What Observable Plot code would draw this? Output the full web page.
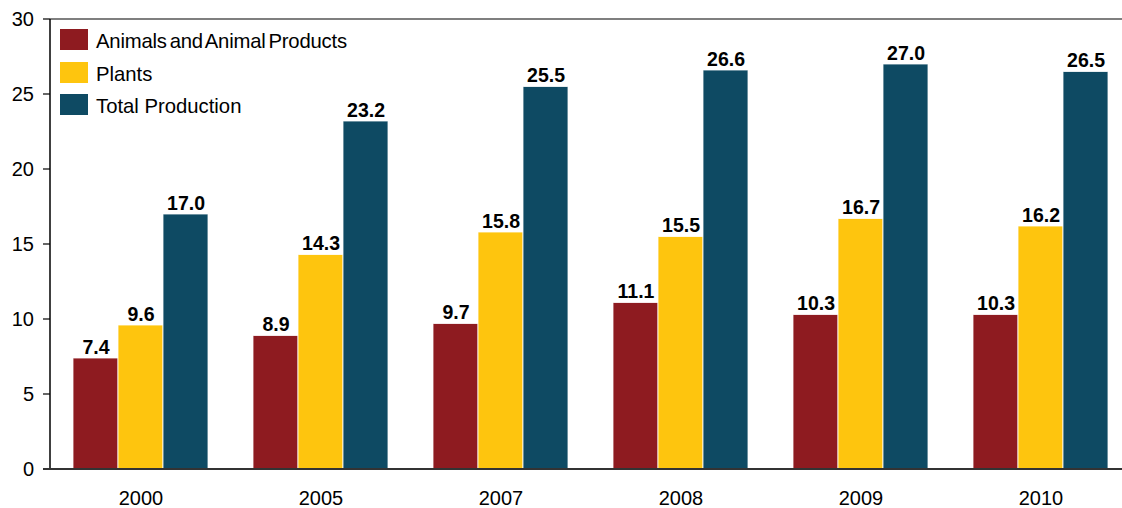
<!DOCTYPE html>
<html>
<head>
<meta charset="utf-8">
<script src="https://cdn.jsdelivr.net/npm/d3@7"></script>
<script src="https://cdn.jsdelivr.net/npm/@observablehq/plot@0.6"></script>
<style>
  body { margin: 0; background: #fff; font-family: "Liberation Sans", Arial, sans-serif; }
  #wrap { position: relative; width: 1122px; height: 508px; }
  #legend { position: absolute; left: 60px; top: 29px; font-size: 20.3px; color: #000; }
  .row { display: flex; align-items: center; height: 21px; margin-bottom: 11.7px; }
  .sw { width: 28px; height: 21px; margin-right: 8px; box-sizing: border-box; }
  .lt { white-space: nowrap; position: relative; top: 2px; }
  .row:first-child .lt { word-spacing: -2.5px; letter-spacing: -0.2px; }
</style>
</head>
<body>
<div id="wrap"><div id="legend"></div></div>
<script>
const years = ["2000", "2005", "2007", "2008", "2009", "2010"];
const series = ["Animals and Animal Products", "Plants", "Total Production"];
const colors = ["#8E1B20", "#FEC50E", "#0E4A63"];
const animals = [7.4, 8.9, 9.7, 11.1, 10.3, 10.3];
const plants = [9.6, 14.3, 15.8, 15.5, 16.7, 16.2];
const total = [17.0, 23.2, 25.5, 26.6, 27.0, 26.5];
const yTicks = [0, 5, 10, 15, 20, 25, 30];

const valuesBySeries = [animals, plants, total];
const data = [];
years.forEach((yr, i) => series.forEach((s, j) => data.push({year: yr, series: s, value: valuesBySeries[j][i]})));

const plot = Plot.plot({
  width: 1122,
  height: 508,
  marginLeft: 50,
  marginRight: 0,
  marginTop: 19,
  marginBottom: 39,
  style: {fontFamily: "'Liberation Sans', Arial, sans-serif", fontSize: "20px", color: "#000", background: "#fff"},
  fx: {domain: years, range: [50.5, 1130.5], paddingInner: 0.25, paddingOuter: 0.125, label: null, axis: null},
  x: {domain: series, padding: 0, axis: null},
  y: {domain: [0, 30], label: null, axis: null},
  color: {domain: series, range: colors},
  marks: [
    Plot.axisY({ticks: yTicks, tickSize: 0, tickPadding: 17, dx: -22.5, fontSize: 20, tickFormat: d3.format("d"), label: null, fill: "#000"}),
    Plot.axisFx({anchor: "bottom", tickSize: 0, tickPadding: 21, fontSize: 20, label: null, fill: "#000"}),
    Plot.barY(data, {fx: "year", x: "series", y: "value", fill: "series", stroke: "#fff", strokeWidth: 1, strokeOpacity: 0.8}),
    Plot.text(data, {fx: "year", x: "series", y: "value", text: d => d.value.toFixed(1), dy: -5, lineAnchor: "bottom", fontWeight: "bold", fontSize: 19.5, fill: "#000"})
  ]
});

const ys = plot.scale("y");
const svg = d3.select(plot);
const y0 = ys.apply(0), y30 = ys.apply(30);
svg.append("g").selectAll("line").data(yTicks).join("line")
  .attr("x1", 43).attr("x2", 50).attr("y1", d => ys.apply(d)).attr("y2", d => ys.apply(d))
  .attr("stroke", "#000").attr("stroke-width", 1.2);
svg.append("line").attr("x1", 50).attr("x2", 1122).attr("y1", y30).attr("y2", y30).attr("stroke", "#000").attr("stroke-width", 1.2);
svg.append("line").attr("x1", 50).attr("x2", 50).attr("y1", y30).attr("y2", y0).attr("stroke", "#000").attr("stroke-width", 1.5);
svg.append("line").attr("x1", 43).attr("x2", 1122).attr("y1", y0).attr("y2", y0).attr("stroke", "#333").attr("stroke-width", 2);

document.getElementById("wrap").prepend(plot);
plot.style.position = "absolute";
plot.style.left = "0";
plot.style.top = "0";

const legend = d3.select("#legend");
series.forEach((s, i) => {
  const row = legend.append("div").attr("class", "row");
  row.append("div").attr("class", "sw").style("background", colors[i]);
  row.append("span").attr("class", "lt").text(s);
});
</script>
</body>
</html>
